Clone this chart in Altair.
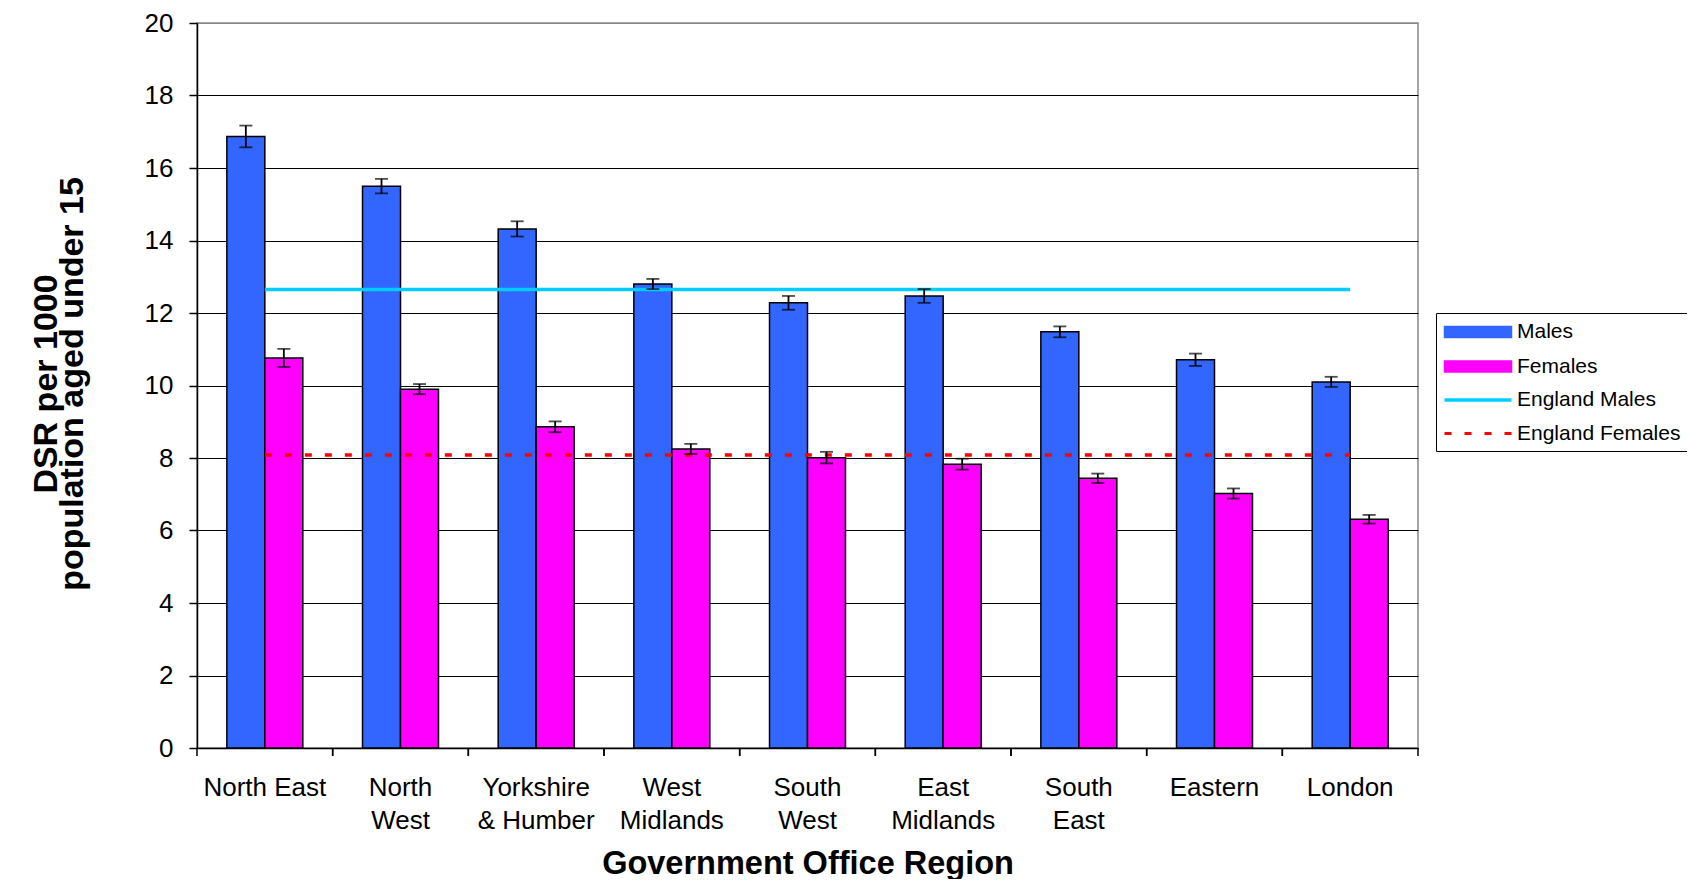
import altair as alt
import pandas as pd

# ---------------- data ----------------
regions = ["North East", "North West", "Yorkshire & Humber", "West Midlands",
           "South West", "East Midlands", "South East", "Eastern", "London"]
males = [16.87, 15.50, 14.32, 12.80, 12.28, 12.47, 11.48, 10.71, 10.10]
females = [10.76, 9.90, 8.86, 8.25, 8.01, 7.83, 7.44, 7.02, 6.31]
males_err = [0.30, 0.20, 0.21, 0.14, 0.19, 0.19, 0.15, 0.17, 0.14]
females_err = [0.25, 0.14, 0.15, 0.14, 0.16, 0.15, 0.13, 0.14, 0.12]
england_males = 12.65
england_females = 8.08
series_names = ["Males", "Females", "England Males", "England Females"]
series_colors = ["#3366FF", "#FF00FF", "#00CCFF", "#FF0000"]
series_outline = [1.5, 1.5, 0, 0]
y_ticks = [0, 2, 4, 6, 8, 10, 12, 14, 16, 18, 20]

rows = []
for r, m, f, me, fe in zip(regions, males, females, males_err, females_err):
    rows.append({"region": r, "series": "Males", "value": m, "lo": m - me, "hi": m + me})
    rows.append({"region": r, "series": "Females", "value": f, "lo": f - fe, "hi": f + fe})
bars_df = pd.DataFrame(rows)
eng_m_df = pd.DataFrame({"region": regions, "series": "England Males", "value": england_males})
eng_f_df = pd.DataFrame({"region": regions, "series": "England Females", "value": england_females})
ticks_df = pd.DataFrame({"region": regions})

# ---------------- layout ----------------
W, H = 1221, 725
STEP = W / len(regions)
FONT = "Liberation Sans"

label_expr = ("datum.label == 'North East' || indexof(datum.label, ' ') < 0 ? datum.label : "
              "[substring(datum.label, 0, indexof(datum.label, ' ')), "
              "substring(datum.label, indexof(datum.label, ' ') + 1)]")

x_axis = alt.Axis(
    title="Government Office Region", titleFont=FONT, titleFontSize=32.5,
    titleFontWeight="bold", titleColor="black", titleX=W / 2, titleY=125,
    titleAlign="center", titleBaseline="alphabetic",
    labelFont=FONT, labelFontSize=26, labelColor="black", labelAngle=0,
    labelAlign="center", labelBaseline="alphabetic", labelLineHeight=33,
    labelPadding=39, labelOverlap=False, labelExpr=label_expr,
    tickSize=8, tickOpacity=0, domainColor="black", domainWidth=1.5, grid=False,
)
x_scale = alt.Scale(domain=regions, paddingInner=0.44, paddingOuter=0.22)
x_enc = alt.X("region:N", sort=regions, scale=x_scale, axis=x_axis)

y_axis = alt.Axis(
    title=["DSR per 1000", "population aged under 15"], titleFont=FONT,
    titleFontSize=34, titleFontWeight="bold", titleColor="black",
    titleX=-141, titleY=H / 2 - 2, titleAngle=270, titleAlign="center",
    titleBaseline="alphabetic", titleLineHeight=26,
    values=y_ticks, labelFont=FONT, labelFontSize=26, labelColor="black",
    labelPadding=16, tickSize=8, tickColor="black", tickWidth=1.5,
    domainColor="black", domainWidth=1.5, grid=True,
    gridColor=alt.condition("datum.value == 20", alt.value("#888888"), alt.value("black")),
    gridWidth=1.2,
)
y_scale = alt.Scale(domain=[0, 20], nice=False)


def y_enc(field):
    return alt.Y(field, type="quantitative", scale=y_scale, axis=y_axis)


xoff = alt.XOffset("series:N", sort=["Males", "Females"],
                   scale=alt.Scale(domain=["Males", "Females"], paddingInner=0, paddingOuter=0))

# legend symbols: filled paths, 1 unit = 11 px (symbol size 22^2), 67 px wide
rect_path = "M-3.045,-0.5L3.045,-0.5L3.045,0.5L-3.045,0.5Z"
solid_path = "M-3.045,-0.155L3.045,-0.155L3.045,0.155L-3.045,0.155Z"
dash_path = ("M-3.045,-0.145L-2.409,-0.145L-2.409,0.145L-3.045,0.145Z"
             "M-1.227,-0.145L-0.591,-0.145L-0.591,0.145L-1.227,0.145Z"
             "M0.591,-0.145L1.227,-0.145L1.227,0.145L0.591,0.145Z"
             "M2.409,-0.145L3.045,-0.145L3.045,0.145L2.409,0.145Z")
legend = alt.Legend(
    orient="none", legendX=1239, legendY=290, padding=7, rowPadding=12.5,
    fillColor="white", strokeColor="black",
    labelFont=FONT, labelFontSize=21, labelColor="black", labelLimit=300,
    symbolSize=484, symbolOffset=23, labelOffset=27,
    symbolOpacity=1, symbolStrokeColor="black",
    symbolType=alt.ExprRef(
        f"datum.value == 'England Males' ? '{solid_path}' : "
        f"datum.value == 'England Females' ? '{dash_path}' : '{rect_path}'"),
)
color_scale = alt.Scale(domain=series_names, range=series_colors)
outline_scale = alt.Scale(type="ordinal", domain=series_names, range=series_outline)

# ---------------- layers ----------------
ticks_r = alt.Chart(ticks_df).mark_rule(color="black", strokeWidth=1.5, xOffset=STEP / 2).encode(
    x=x_enc, y=alt.value(H), y2=alt.value(H + 8))
ticks_l = alt.Chart(ticks_df).mark_rule(color="black", strokeWidth=1.5, xOffset=-STEP / 2).encode(
    x=x_enc, y=alt.value(H), y2=alt.value(H + 8))

bars = alt.Chart(bars_df).mark_bar(stroke="black").encode(
    x=x_enc, xOffset=xoff, y=y_enc("value"),
    color=alt.Color("series:N", scale=color_scale, legend=legend, title=None),
    strokeWidth=alt.StrokeWidth("series:N", scale=outline_scale, legend=legend, title=None),
)
err = alt.Chart(bars_df).mark_rule(color="black", strokeWidth=1.8).encode(
    x=x_enc, xOffset=xoff, y=y_enc("lo"), y2="hi:Q")
cap_hi = alt.Chart(bars_df).mark_tick(color="black", orient="horizontal", size=13, thickness=1.8).encode(
    x=x_enc, xOffset=xoff, y=y_enc("hi"))
cap_lo = alt.Chart(bars_df).mark_tick(color="black", orient="horizontal", size=13, thickness=1.8).encode(
    x=x_enc, xOffset=xoff, y=y_enc("lo"))

line_m = alt.Chart(eng_m_df).mark_line(strokeWidth=3.5).encode(
    x=x_enc, y=y_enc("value"),
    color=alt.Color("series:N", scale=color_scale, legend=None))
line_f = alt.Chart(eng_f_df).mark_line(strokeWidth=3.5, strokeDash=[7, 13]).encode(
    x=x_enc, y=y_enc("value"),
    color=alt.Color("series:N", scale=color_scale, legend=None))

chart = alt.layer(ticks_r, ticks_l, bars, line_m, line_f, err, cap_hi, cap_lo).properties(
    width=W, height=H,
    autosize=alt.AutoSizeParams(type="none"),
    padding={"left": 189, "top": 15, "right": 269, "bottom": 131},
    background="white",
).configure_view(stroke="#888888", strokeWidth=1.5)

chart.save("out.html", embed_options={"renderer": "svg", "actions": False})
